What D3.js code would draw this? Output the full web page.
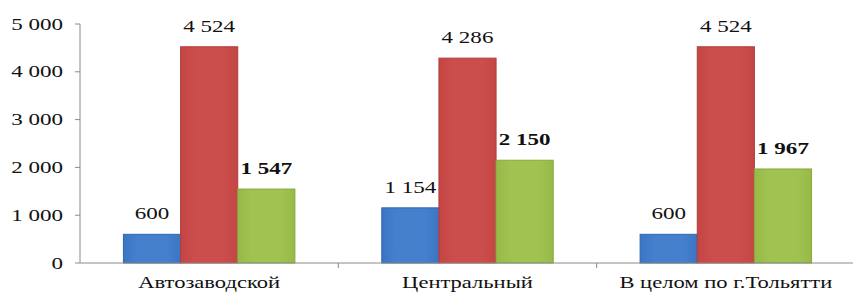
<!DOCTYPE html>
<html><head><meta charset="utf-8">
<script src="https://cdn.jsdelivr.net/npm/d3@7"></script>
<style>body{margin:0;background:#fff}svg{display:block}
svg text{font-family:"Liberation Serif","Tinos","Times New Roman","DejaVu Serif","Noto Serif",Times,serif;fill:#111}</style>
</head><body><svg id="c" width="853" height="299"></svg>
<script>
const categories = ["Автозаводской", "Центральный", "В целом по г.Тольятти"];
const seriesBlue = [600, 1154, 600];
const seriesRed = [4524, 4286, 4524];
const seriesGreen = [1547, 2150, 1967];
const yTicks = [0, 1000, 2000, 3000, 4000, 5000];
const seriesNames = ["blue", "red", "green"];
const colors = {blue: ["#3a76c4", "#4480cc"], red: ["#c44644", "#cc4e4c"], green: ["#96b948", "#9fc250"]};
const strokes = {blue: "#3166ad", red: "#b03f3d", green: "#88a83e"};
const bold = {blue: false, red: false, green: true};
const values = {blue: seriesBlue, red: seriesRed, green: seriesGreen};

(function () {
const svg = d3.select("#c");
const mLeft = 80, mRight = 855, mTop = 24, mBottom = 263;
const SX = 1.44, SXC = 1.41, FS = "16px";
const fmt = v => d3.format(",")(v).replace(/,/g, " ");

const defs = svg.append("defs");
seriesNames.forEach(s => {
  const g = defs.append("linearGradient").attr("id", "g_" + s).attr("x1", 0).attr("x2", 1).attr("y1", 0).attr("y2", 0);
  g.append("stop").attr("offset", "0%").attr("stop-color", colors[s][0]);
  g.append("stop").attr("offset", "25%").attr("stop-color", colors[s][1]);
  g.append("stop").attr("offset", "75%").attr("stop-color", colors[s][1]);
  g.append("stop").attr("offset", "100%").attr("stop-color", colors[s][0]);
});

const x = d3.scaleBand().domain(categories).range([mLeft, mRight]).paddingInner(0).paddingOuter(0);
const x1 = d3.scaleBand().domain(seriesNames).range([0, x.bandwidth()]).paddingInner(0).paddingOuter(0.76);
const y = d3.scaleLinear().domain([0, 5000]).range([mBottom, mTop]);

svg.append("line").attr("x1", mLeft).attr("x2", mLeft).attr("y1", y(5000)).attr("y2", y(0)).attr("stroke", "#8a8a8a");
yTicks.forEach(t => {
  svg.append("line").attr("x1", mLeft - 5).attr("x2", mLeft).attr("y1", y(t)).attr("y2", y(t)).attr("stroke", "#8a8a8a");
  svg.append("text").attr("transform", `translate(63,${y(t)}) scale(${SX},1)`).attr("dy", "0.35em")
    .attr("text-anchor", "end").style("font-size", FS).text(fmt(t));
});

categories.forEach((c, i) => {
  seriesNames.forEach(s => {
    const v = values[s][i];
    const bx = x(c) + x1(s);
    svg.append("rect").attr("x", bx).attr("y", y(v)).attr("width", x1.bandwidth()).attr("height", y(0) - y(v))
      .attr("fill", `url(#g_${s})`).attr("stroke", strokes[s]).attr("stroke-width", 1);
    svg.append("text").attr("transform", `translate(${bx + x1.bandwidth() / 2},${y(v) - 15}) scale(${SX},1)`)
      .attr("text-anchor", "middle").style("font-size", FS).style("font-weight", bold[s] ? "bold" : "normal").text(fmt(v));
  });
  svg.append("text").attr("transform", `translate(${x(c) + x.bandwidth() / 2},288) scale(${SXC},1)`)
    .attr("text-anchor", "middle").style("font-size", FS).text(c);
});

svg.append("line").attr("x1", mLeft).attr("x2", mRight).attr("y1", y(0)).attr("y2", y(0)).attr("stroke", "#8a8a8a");
categories.forEach((c, i) => {
  if (i > 0) svg.append("line").attr("x1", x(c)).attr("x2", x(c)).attr("y1", y(0)).attr("y2", y(0) + 5).attr("stroke", "#8a8a8a");
});
})();
</script></body></html>
